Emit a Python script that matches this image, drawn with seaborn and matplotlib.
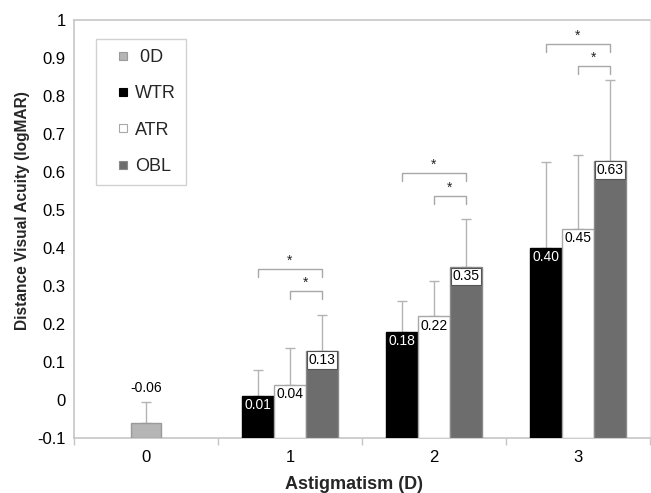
import numpy as np
import pandas as pd
import matplotlib
matplotlib.use("Agg")
import matplotlib.pyplot as plt
from matplotlib.lines import Line2D
import seaborn as sns

# ---------------- data ----------------
astig_levels = [0, 1, 2, 3]
astig_types = ["WTR", "ATR", "OBL"]

zero_mean = [-0.06]
zero_sd = [0.055]

wtr_mean = [0.01, 0.18, 0.40]
atr_mean = [0.04, 0.22, 0.45]
obl_mean = [0.13, 0.35, 0.63]
wtr_sd = [0.07, 0.08, 0.226]
atr_sd = [0.096, 0.093, 0.194]
obl_sd = [0.095, 0.126, 0.212]

y_ticks = [-0.1, 0, 0.1, 0.2, 0.3, 0.4, 0.5, 0.6, 0.7, 0.8, 0.9, 1.0]
y_tick_labels = ["-0.1", "0", "0.1", "0.2", "0.3", "0.4", "0.5",
                 "0.6", "0.7", "0.8", "0.9", "1"]

# significance brackets
sig_level = [1, 1, 2, 2, 3, 3]
sig_from = ["WTR", "ATR", "WTR", "ATR", "WTR", "ATR"]
sig_to = ["OBL", "OBL", "OBL", "OBL", "OBL", "OBL"]
sig_y = [0.344, 0.287, 0.597, 0.537, 0.937, 0.879]
sig_label = ["*", "*", "*", "*", "*", "*"]

colors = {"0D": "#b5b5b5", "WTR": "#000000", "ATR": "#ffffff", "OBL": "#6d6d6d"}
edges = {"0D": "#9a9a9a", "WTR": "#000000", "ATR": "#a8a8a8", "OBL": "#8a8a8a"}
axis_gray = "#c6c6c6"
err_gray = "#b4b4b4"

# ---------------- frames ----------------
means = {"WTR": wtr_mean, "ATR": atr_mean, "OBL": obl_mean}
sds = {"WTR": wtr_sd, "ATR": atr_sd, "OBL": obl_sd}
rows = []
for t in astig_types:
    for lvl, v in zip(astig_levels[1:], means[t]):
        rows.append({"astig": lvl, "type": t, "va": v})
df = pd.DataFrame(rows)
df0 = pd.DataFrame({"astig": [astig_levels[0]], "type": ["0D"], "va": zero_mean})

# ---------------- plot ----------------
sns.set_theme(style="white")
plt.rcParams["font.family"] = ["Liberation Sans", "DejaVu Sans"]

fig = plt.figure(figsize=(6.51, 4.93), dpi=100)
ax = fig.add_axes([74 / 651, 55 / 493, 576 / 651, 418 / 493])

sns.barplot(data=df, x="astig", y="va", hue="type", order=astig_levels,
            hue_order=astig_types, palette=[colors[t] for t in astig_types],
            width=0.666, errorbar=None, legend=False, saturation=1, ax=ax)
sns.barplot(data=df0, x="astig", y="va", order=astig_levels,
            color=colors["0D"], width=0.21, errorbar=None, saturation=1, ax=ax)

BOTTOM = -0.1
containers = {t: ax.containers[i] for i, t in enumerate(astig_types)}
containers["0D"] = ax.containers[3]
all_means = dict(means)
all_means["0D"] = zero_mean
all_sds = dict(sds)
all_sds["0D"] = zero_sd

for key, cont in containers.items():
    for p, v in zip(cont.patches, all_means[key]):
        p.set_y(BOTTOM)
        p.set_height(v - BOTTOM)
        p.set_facecolor(colors[key])
        p.set_edgecolor(edges[key])
        p.set_linewidth(1.0)
        p.set_zorder(3)
    xs = [p.get_x() + p.get_width() / 2 for p in cont.patches]
    ax.errorbar(xs, all_means[key], yerr=[np.zeros(len(xs)), all_sds[key]],
                fmt="none", ecolor=err_gray, elinewidth=1.0, capsize=3.5,
                capthick=1.0, zorder=2)

# value labels
for key in astig_types:
    cont = containers[key]
    for p, v in zip(cont.patches, all_means[key]):
        cx = p.get_x() + p.get_width() / 2
        txt = f"{v:.2f}"
        if key == "WTR":
            ax.text(cx, v - 0.024, txt, ha="center", va="center",
                    color="white", fontsize=10, zorder=5)
        elif key == "ATR":
            ax.text(cx, v - 0.024, txt, ha="center", va="center",
                    color="black", fontsize=10, zorder=5)
        else:
            ax.text(cx, v - 0.025, txt, ha="center", va="center",
                    color="black", fontsize=10, zorder=5,
                    bbox=dict(boxstyle="square,pad=0.12", fc="white",
                              ec="#555555", lw=0.8))
p0 = containers["0D"].patches[0]
ax.text(p0.get_x() + p0.get_width() / 2, zero_mean[0] + zero_sd[0] + 0.037,
        f"{zero_mean[0]:.2f}", ha="center", va="center", fontsize=10,
        color="black")

# significance brackets
leg = 0.02
for lvl, a, b, y, s in zip(sig_level, sig_from, sig_to, sig_y, sig_label):
    pa = containers[a].patches[lvl - 1]
    pb = containers[b].patches[lvl - 1]
    xa = pa.get_x() + pa.get_width() / 2
    xb = pb.get_x() + pb.get_width() / 2
    ax.plot([xa, xa, xb, xb], [y - leg, y, y, y - leg], color="#a8a8a8",
            lw=1.0, zorder=4)
    ax.text((xa + xb) / 2, y + 0.004, s, ha="center", va="bottom",
            fontsize=10, color="#222222")

# axes styling
ax.set_xlim(-0.5, 3.5)
ax.set_ylim(-0.1, 1.0)
ax.set_yticks(y_ticks)
ax.set_yticklabels(y_tick_labels)
ax.set_xticks(range(len(astig_levels)))
ax.set_xticklabels([str(l) for l in astig_levels])
ax.set_xticks([-0.5, 0.5, 1.5, 2.5, 3.5], minor=True)
ax.tick_params(axis="x", which="major", length=0, pad=9, labelsize=12,
               colors="black")
ax.tick_params(axis="x", which="minor", length=5, width=1, color=axis_gray,
               bottom=True)
ax.tick_params(axis="y", length=0, pad=6, labelsize=12, colors="black")
for side in ["left", "bottom", "top"]:
    ax.spines[side].set_color(axis_gray)
    ax.spines[side].set_linewidth(1.2)
ax.spines["right"].set_color("#e6e6e6")
ax.spines["right"].set_linewidth(1.0)

ax.set_xlabel("Astigmatism (D)", fontsize=13, fontweight="bold")
ax.xaxis.set_label_coords((354 - 74) / 576, (438 - 476) / 418)
ax.set_ylabel("Distance Visual Acuity (logMAR)", fontsize=11.2,
              fontweight="bold")
ax.yaxis.set_label_coords((30 - 74) / 576, (438 - 211) / 418)

# legend
legend_keys = ["0D"] + astig_types
handles = [Line2D([0], [0], linestyle="none", marker="s", markersize=6,
                  markerfacecolor=colors[k], markeredgecolor=edges[k],
                  markeredgewidth=0.8) for k in legend_keys]
labels = [" 0D"] + astig_types
lg = ax.legend(handles, labels, loc="upper left",
               bbox_to_anchor=(22 / 576, (438 - 39) / 418),
               fontsize=13, handlelength=1.9, handletextpad=-0.28,
               labelspacing=1.07, borderpad=0.55, borderaxespad=0,
               fancybox=False, frameon=True)
lg.get_frame().set_edgecolor(axis_gray)
lg.get_frame().set_linewidth(1.0)

fig.savefig("out.png", dpi=100)
